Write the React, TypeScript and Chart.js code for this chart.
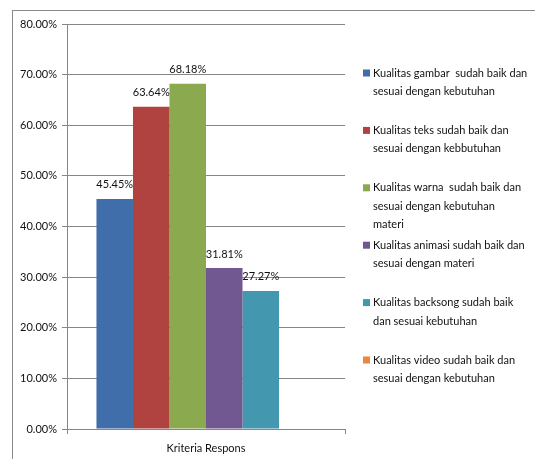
import React, { useEffect, useRef } from "react";
import { Chart, registerables } from "chart.js";

Chart.register(...registerables);

const categories = ["Kriteria Respons"];

const seriesNames: string[][] = [
  ["Kualitas gambar  sudah baik dan", "sesuai dengan kebutuhan"],
  ["Kualitas teks sudah baik dan", "sesuai dengan kebbutuhan"],
  ["Kualitas warna  sudah baik dan", "sesuai dengan kebutuhan", "materi"],
  ["Kualitas animasi sudah baik dan", "sesuai dengan materi"],
  ["Kualitas backsong sudah baik", "dan sesuai kebutuhan"],
  ["Kualitas video sudah baik dan", "sesuai dengan kebutuhan"],
];

const seriesValues: number[] = [45.45, 63.64, 68.18, 31.81, 27.27, 0];

const valueLabels: string[] = ["45.45%", "63.64%", "68.18%", "31.81%", "27.27%", ""];

const seriesColors: string[] = ["#3F6EAA", "#B0433F", "#8BA94E", "#725891", "#4398AF", "#E9883E"];

const yTicks = { min: 0, max: 80, step: 10 };

const FONT = "Lato, 'Open Sans', sans-serif";
const AXIS_COLOR = "#868686";
const TEXT_COLOR = "#111";

const framePlugin = {
  id: "frame",
  beforeDraw(chart: any) {
    const ctx = chart.ctx;
    ctx.save();
    ctx.fillStyle = "#ffffff";
    ctx.fillRect(0, 0, chart.width, chart.height);
    ctx.strokeStyle = "#8a8a8a";
    ctx.lineWidth = 1;
    ctx.strokeRect(12.5, 10.5, chart.width + 50, chart.height + 50);
    ctx.restore();
  },
};

const valueLabelPlugin = {
  id: "valueLabels",
  afterDatasetsDraw(chart: any) {
    const ctx = chart.ctx;
    ctx.save();
    ctx.font = `11px ${FONT}`;
    ctx.fillStyle = TEXT_COLOR;
    ctx.textAlign = "center";
    ctx.textBaseline = "middle";
    chart.data.datasets.forEach((ds: any, i: number) => {
      const text = valueLabels[i];
      if (!text) return;
      const el = chart.getDatasetMeta(i).data[0];
      if (!el) return;
      ctx.fillText(text, el.x, el.y - 14);
    });
    ctx.restore();
  },
};

const legendPlugin = {
  id: "customLegend",
  afterDraw(chart: any) {
    const ctx = chart.ctx;
    const area = chart.chartArea;
    const x0 = area.right + 18;
    const y0 = area.top + 49;
    const gap = 57.4;
    const lineH = 18.5;
    ctx.save();
    ctx.font = `11px ${FONT}`;
    ctx.textBaseline = "middle";
    ctx.textAlign = "left";
    chart.data.datasets.forEach((ds: any, i: number) => {
      const y = y0 + i * gap;
      ctx.fillStyle = ds.backgroundColor;
      ctx.fillRect(x0, y - 3.5, 7, 7);
      ctx.fillStyle = TEXT_COLOR;
      seriesNames[i].forEach((line, j) => {
        ctx.fillText(line, x0 + 10, y + j * lineH);
      });
    });
    ctx.restore();
  },
};

export default function App() {
  const ref = useRef<HTMLCanvasElement>(null);

  useEffect(() => {
    if (!ref.current) return;
    const chart = new Chart(ref.current, {
      type: "bar",
      data: {
        labels: categories,
        datasets: seriesNames.map((name, i) => ({
          label: name.join(" "),
          data: [seriesValues[i]],
          backgroundColor: seriesColors[i],
          borderWidth: 0,
        })),
      },
      options: {
        animation: false,
        responsive: false,
        devicePixelRatio: 1,
        layout: { padding: { top: 24, right: 190, bottom: 0, left: 0 } },
        plugins: {
          legend: { display: false },
          tooltip: { enabled: false },
        },
        datasets: {
          bar: { categoryPercentage: 0.788, barPercentage: 1 },
        },
        scales: {
          x: {
            grid: { drawOnChartArea: false, tickLength: 5, color: AXIS_COLOR },
            border: { color: AXIS_COLOR },
            ticks: { font: { family: FONT, size: 11 }, color: TEXT_COLOR, padding: 8 },
            afterFit: (s: any) => {
              s.height = 30;
            },
          },
          y: {
            min: yTicks.min,
            max: yTicks.max,
            ticks: {
              stepSize: yTicks.step,
              callback: (v: any) => Number(v).toFixed(2) + "%",
              font: { family: FONT, size: 11 },
              color: TEXT_COLOR,
              padding: 5,
            },
            grid: { color: AXIS_COLOR, tickLength: 5 },
            border: { color: AXIS_COLOR },
            afterFit: (s: any) => {
              s.width = 67;
            },
          },
        },
      },
      plugins: [framePlugin, valueLabelPlugin, legendPlugin],
    } as any);
    return () => chart.destroy();
  }, []);

  return (
    <div style={{ position: "absolute", left: 0, top: 0, width: 535, height: 459 }}>
      <canvas ref={ref} width={535} height={459} style={{ display: "block" }} />
    </div>
  );
}
